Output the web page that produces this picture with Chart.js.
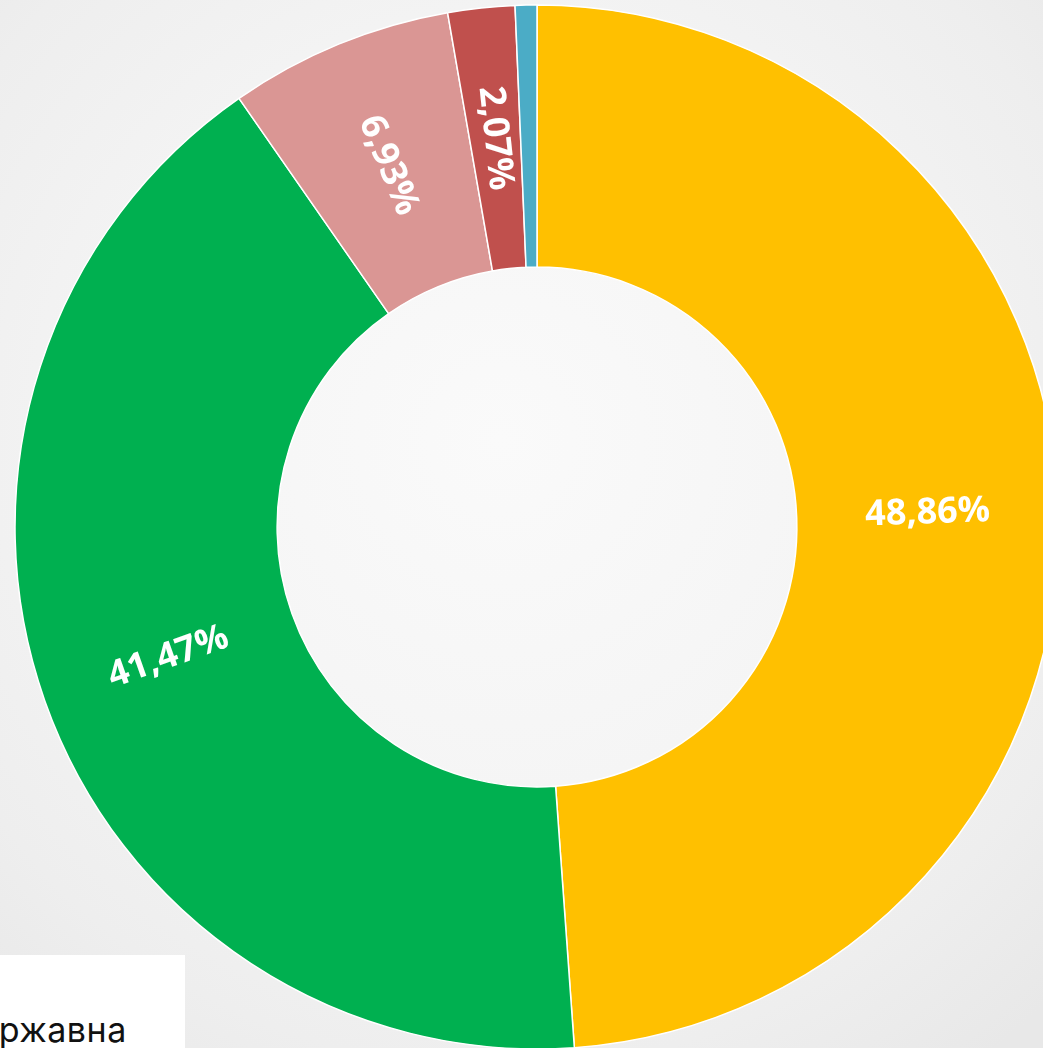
<!DOCTYPE html>
<html>
<head>
<meta charset="utf-8">
<script src="https://cdn.jsdelivr.net/npm/chart.js@4.4.0/dist/chart.umd.min.js"></script>
<style>
  html, body { margin: 0; padding: 0; width: 1043px; height: 1048px; overflow: hidden; }
  body { background: radial-gradient(ellipse 75% 75% at 48% 42%, #fafafa 0%, #f5f5f5 45%, #eeeeee 80%, #e8e8e8 100%); position: relative; }
  #wrap { position: absolute; left: 0; top: 0; width: 1074px; height: 1054px; }
  #legendBox { position: absolute; left: -20px; top: 955px; width: 205px; height: 120px; background: #ffffff; }
  #legendText { position: absolute; left: -50px; top: 1009px; font-family: Inter, "Noto Sans", sans-serif; font-size: 34px; color: #111; white-space: nowrap; letter-spacing: 0.5px; }
</style>
</head>
<body>
<div id="wrap"><canvas id="c"></canvas></div>
<div id="legendBox"></div>
<div id="legendText">Державна</div>
<script>
const categories = ["A", "B", "C", "D", "E"];
const values = [48.86, 41.47, 6.93, 2.07, 0.67];
const valueLabels = ["48,86%", "41,47%", "6,93%", "2,07%", ""];
const colors = ["#FFC000", "#00B050", "#DA9694", "#C0504D", "#4BACC6"];

const labelPlugin = {
  id: 'sliceLabels',
  afterDatasetsDraw(chart) {
    const ctx = chart.ctx;
    const meta = chart.getDatasetMeta(0);
    meta.data.forEach((arc, i) => {
      const txt = valueLabels[i];
      if (!txt) return;
      const p = arc.getProps(['x', 'y', 'startAngle', 'endAngle', 'innerRadius', 'outerRadius'], true);
      const mid = (p.startAngle + p.endAngle) / 2;
      const r = (p.innerRadius + p.outerRadius) / 2;
      const x = p.x + Math.cos(mid) * r;
      const y = p.y + Math.sin(mid) * r;
      let rot = mid;
      if (Math.cos(rot) < 0) rot += Math.PI;
      ctx.save();
      ctx.translate(x, y);
      ctx.rotate(rot);
      ctx.font = 'bold 36px "Open Sans", sans-serif';
      ctx.fillStyle = '#ffffff';
      ctx.textAlign = 'center';
      ctx.textBaseline = 'middle';
      ctx.fillText(txt, 0, 0);
      ctx.restore();
    });
  }
};

new Chart(document.getElementById('c'), {
  type: 'doughnut',
  data: {
    labels: categories,
    datasets: [{
      data: values,
      backgroundColor: colors,
      borderColor: '#ffffff',
      borderWidth: 1.5
    }]
  },
  options: {
    responsive: true,
    maintainAspectRatio: false,
    animation: false,
    radius: 522,
    cutout: 262,
    layout: { padding: 0 },
    plugins: { legend: { display: false }, tooltip: { enabled: false } }
  },
  plugins: [labelPlugin]
});
</script>
</body>
</html>
